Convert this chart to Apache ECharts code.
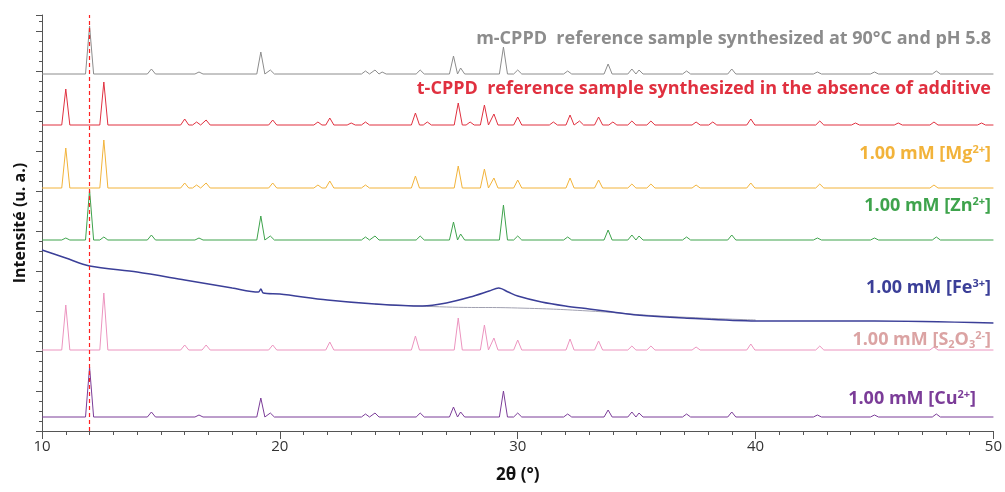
<!DOCTYPE html>
<html><head><meta charset="utf-8">
<script src="https://cdn.jsdelivr.net/npm/echarts@6/dist/echarts.min.js"></script>
<style>html,body{margin:0;background:#fff}#c{width:1005px;height:492px}</style>
</head><body><div id="c"></div>
<script>
const xTicks = [10, 20, 30, 40, 50];
const mPeaks = [[12.0,48],[14.6,5],[16.6,2],[19.2,22],[19.6,4],[23.6,3],[24.0,4],[24.3,2],[25.9,4],[27.3,18],[27.6,6],[29.4,27],[30.0,4],[32.1,3],[33.8,10],[34.8,5],[35.1,4],[37.1,3],[39.0,5],[42.6,2],[45.0,2],[47.6,3]];
const tPeaks = [[11.0,36],[12.6,43],[16.0,6],[16.5,3],[16.9,5],[19.7,5],[21.6,3],[22.1,7],[23.0,2],[23.6,3],[25.7,12],[26.2,3],[27.5,22],[28.0,3],[28.6,20],[29.0,11],[30.0,8],[31.5,3],[32.2,10],[32.6,4],[33.4,8],[34.0,3],[34.8,4],[35.6,4],[37.5,3],[38.2,3],[39.8,6],[42.7,4],[44.2,2],[46.0,2],[47.5,3],[49.5,2]];
const mgPeaks = [[11.0,40],[12.6,48],[16.0,5],[16.5,3],[16.9,5],[19.7,5],[21.6,3],[22.1,7],[23.6,3],[25.7,12],[27.5,22],[28.6,19],[29.0,10],[30.0,8],[32.2,10],[33.4,8],[34.8,4],[35.6,4],[37.5,3],[39.8,5],[42.7,4],[47.5,3]];
const znPeaks = [[11.0,2],[12.0,50],[12.6,3],[14.6,5],[16.6,2],[19.2,24],[19.6,4],[23.6,3],[24.0,4],[25.9,4],[27.3,18],[27.6,6],[29.4,35],[30.0,4],[32.1,3],[33.8,10],[34.8,5],[35.1,4],[37.1,3],[39.0,5],[42.6,2],[45.0,2],[47.6,3]];
const s2o3Peaks = [[11.0,45],[12.6,57],[16.0,5],[16.9,5],[19.7,5],[22.1,8],[25.7,14],[27.5,32],[28.6,25],[29.0,12],[30.0,10],[32.2,11],[33.4,9],[34.8,4],[35.6,4],[37.5,3],[39.8,6],[42.7,4],[47.5,3]];
const cuPeaks = [[12.0,50],[14.6,5],[16.6,2],[19.2,19],[19.6,4],[23.6,3],[24.0,4],[25.9,4],[27.3,10],[27.6,5],[29.4,26],[30.0,4],[32.1,3],[33.8,7],[34.8,5],[35.1,4],[37.1,3],[39.0,5],[42.6,2],[45.0,2],[47.6,3]];
const feCurve = [[10,181],[11,173],[12,165],[14,159],[16,151],[18,143],[19.1,139],[19.2,142],[19.3,138],[20,137],[22,131],[24,127],[26,125],[27,128],[28,134],[28.8,140],[29.2,143],[29.6,139],[30,135],[31,129],[32,125],[33,122],[34,119],[35,116],[37,113],[40,110],[45,110],[50,108]];
const feFit = [[24,127],[27,124],[30,123],[33,120],[36,115],[40,111]];
const bases = {m:357, t:306, mg:243, zn:191, s:81, cu:14};

function pattern(peaks, base){
  const pts=[[10,base]];
  peaks.forEach(([x,h])=>{pts.push([x-0.17,base],[x,base+h],[x+0.17,base]);});
  pts.push([50,base]);
  return pts;
}
const names=[['m',mPeaks,'#8c8c8c'],['t',tPeaks,'#e0303f'],['mg',mgPeaks,'#f2b33a'],['zn',znPeaks,'#3ea34c'],['s',s2o3Peaks,'#ec94bf'],['cu',cuPeaks,'#7b3c98']];
const series = names.map(([k,p,c])=>({type:'line',data:pattern(p,bases[k]),showSymbol:false,lineStyle:{color:c,width:1},silent:true}));
series.push({type:'line',data:feFit,showSymbol:false,smooth:true,lineStyle:{color:'#a0a0b0',width:1}});
series.push({type:'line',data:feCurve,showSymbol:false,smooth:0.3,lineStyle:{color:'#3b3f98',width:1.5}});
series.push({type:'line',data:[],z:10,markLine:{silent:true,z:10,symbol:'none',label:{show:false},lineStyle:{color:'#ff2020',type:[4,3],width:1.2,opacity:1},data:[{xAxis:12}]}});

const F='"Open Sans"';
const lab=(t,y,c,rich)=>({type:'text',right:14,top:y,z:20,style:{text:t,fill:c,font:'bold 18px '+F,rich:rich}});
const sup=c=>({sup:{fill:c,font:'bold 11px '+F,verticalAlign:'top',padding:[0,0,9,0]},sub:{fill:c,font:'bold 11px '+F,padding:[9,0,0,0]}});
const chart=echarts.init(document.getElementById('c'));
chart.setOption({
  animation:false,
  grid:{left:42,right:8,top:15,bottom:61},
  xAxis:{type:'value',min:10,max:50,interval:10,
    axisLine:{lineStyle:{color:'#555'}},axisTick:{length:8,lineStyle:{color:'#555'}},
    minorTick:{show:true,splitNumber:10,length:4,lineStyle:{color:'#555'}},
    splitLine:{show:false},axisLabel:{color:'#333',fontSize:15,fontFamily:'Open Sans',formatter:v=>xTicks.includes(v)?v:''},
    name:'2θ (°)',nameLocation:'middle',nameGap:36,nameTextStyle:{color:'#111',fontWeight:'bold',fontSize:17,fontFamily:'Open Sans'}},
  yAxis:{type:'value',min:0,max:416,interval:40,axisLine:{show:true,lineStyle:{color:'#555'}},
    axisTick:{show:true,length:6,lineStyle:{color:'#555'}},
    minorTick:{show:true,splitNumber:4,length:3,lineStyle:{color:'#555'}},
    axisLabel:{show:false},splitLine:{show:false},
    name:'Intensité (u. a.)',nameLocation:'middle',nameGap:14,nameTextStyle:{color:'#111',fontWeight:'bold',fontSize:16,fontFamily:'Open Sans'}},
  series:series,
  graphic:[
    lab('m-CPPD  reference sample synthesized at 90°C and pH 5.8',30,'#8c8c8c'),
    lab('t-CPPD  reference sample synthesized in the absence of additive',80,'#e0303f'),
    lab('1.00 mM [Mg{sup|2+}]',144,'#f2b33a',sup('#f2b33a')),
    lab('1.00 mM [Zn{sup|2+}]',196,'#3ea34c',sup('#3ea34c')),
    lab('1.00 mM [Fe{sup|3+}]',278,'#3b3f98',sup('#3b3f98')),
    lab('1.00 mM [S{sub|2}O{sub|3}{sup|2-}]',330,'#dba3a3',sup('#dba3a3')),
    {type:'text',right:29,top:389,z:20,style:{text:'1.00 mM [Cu{sup|2+}]',fill:'#7b3c98',font:'bold 18px '+F,rich:sup('#7b3c98')}}
  ]
});
</script></body></html>
